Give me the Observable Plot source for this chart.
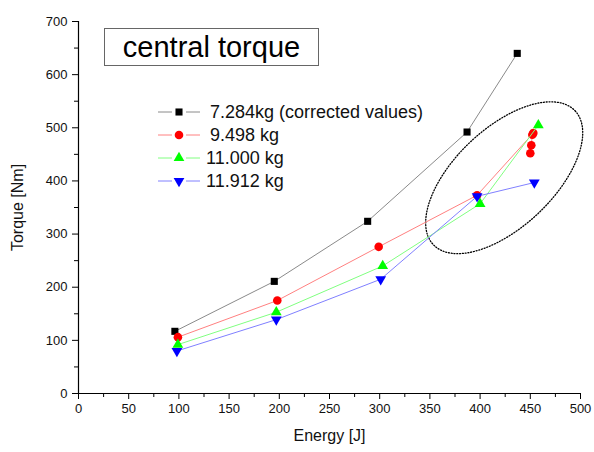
<!DOCTYPE html>
<html>
<head>
<meta charset="utf-8">
<script src="https://cdn.jsdelivr.net/npm/d3@7"></script>
<script src="https://cdn.jsdelivr.net/npm/@observablehq/plot@0.6"></script>
<style>
  html, body { margin: 0; padding: 0; background: #fff; }
  #wrap { position: relative; width: 594px; height: 452px; font-family: "Liberation Sans", Arial, sans-serif; }
  #titlebox { position: absolute; left: 104px; top: 28px; width: 213px; height: 36px; border: 1px solid #666;
    font-size: 29px; line-height: 36px; text-align: center; color: #000; background: #fff; }
  #legend { position: absolute; left: 156px; top: 101px; font-size: 18px; color: #111; }
  .row { position: absolute; left: 0; height: 22px; white-space: nowrap; display: flex; align-items: center; }
  .row svg { display: block; }
  svg g[aria-label$="axis label"] { font-size: 16px; }
</style>
</head>
<body>
<div id="wrap">
  <div id="chart"></div>
  <div id="titlebox">central torque</div>
  <div id="legend"></div>
</div>
<script>
// ---- data ----
const seriesNames = ["7.284kg (corrected values)", "9.498 kg", "11.000 kg", "11.912 kg"];
const lineColors = ["#8a8a8a", "#ff8080", "#80ff80", "#8080ff"];
const markerColors = ["#000000", "#ff0000", "#00ff00", "#0000ff"];

const energy7284 = [96, 195, 288, 387, 437];
const torque7284 = [117, 211, 324, 492, 640];

const energy9498 = [99, 198, 299, 397, 453, 452, 451, 450];
const torque9498 = [106, 175, 276, 373, 490, 487, 467, 452];

const energy11000 = [99, 197, 303, 400, 458];
const torque11000 = [92, 153, 240, 357, 505];

const energy11912 = [98, 197, 301, 397, 454];
const torque11912 = [80, 139, 215, 371, 397];

const xTickValues = [0, 50, 100, 150, 200, 250, 300, 350, 400, 450, 500];
const xMinorTicks = [25, 75, 125, 175, 225, 275, 325, 375, 425, 475];
const yTickValues = [0, 100, 200, 300, 400, 500, 600, 700];
const yMinorTicks = [50, 150, 250, 350, 450, 550, 650];

// dotted annotation ellipse (data units): center, major and minor half-axis vectors
const ellipseCenter = [424, 406];
const ellipseMajor = [70.6, 126.0];
const ellipseMinor = [33.7, -67.4];

// ---- build tables ----
const toRows = (xs, ys) => xs.map((x, i) => ({x, y: ys[i]}));
const s1 = toRows(energy7284, torque7284);
const s2 = toRows(energy9498, torque9498);
const s3 = toRows(energy11000, torque11000);
const s4 = toRows(energy11912, torque11912);

const ellipsePts = d3.range(0, 361, 3).map(deg => {
  const t = deg * Math.PI / 180;
  return {
    x: ellipseCenter[0] + Math.cos(t) * ellipseMajor[0] + Math.sin(t) * ellipseMinor[0],
    y: ellipseCenter[1] + Math.cos(t) * ellipseMajor[1] + Math.sin(t) * ellipseMinor[1]
  };
});

const triangleDown = {
  draw(context, size) {
    const y = Math.sqrt(size / (Math.sqrt(3) * 3));
    context.moveTo(0, y * 2);
    context.lineTo(-Math.sqrt(3) * y, -y);
    context.lineTo(Math.sqrt(3) * y, -y);
    context.closePath();
  }
};

const chart = Plot.plot({
  width: 594,
  height: 452,
  marginLeft: 78,
  marginRight: 14,
  marginTop: 21,
  marginBottom: 59,
  style: {fontFamily: "Liberation Sans, Arial, sans-serif", fontSize: "13px", color: "#111", background: "#fff"},
  x: {domain: [0, 500]},
  y: {domain: [0, 700]},
  marks: [
    Plot.axisX({ticks: xMinorTicks, tickSize: 4, tickFormat: () => "", label: null, stroke: "#000"}),
    Plot.axisX({ticks: xTickValues, tickSize: 6, tickPadding: 4, tickFormat: d => String(d),
      label: "Energy [J]", labelAnchor: "center", labelOffset: 47, labelArrow: false, stroke: "#000"}),
    Plot.axisY({ticks: yMinorTicks, tickSize: 4, tickFormat: () => "", label: null, stroke: "#000"}),
    Plot.axisY({ticks: yTickValues, tickSize: 6, tickPadding: 5, tickFormat: d => String(d),
      label: "Torque [Nm]", labelAnchor: "center", labelOffset: 67, labelArrow: false, stroke: "#000"}),
    Plot.ruleX([0], {stroke: "#000", strokeWidth: 1.2}),
    Plot.ruleY([0], {stroke: "#000", strokeWidth: 1.2}),

    Plot.line(ellipsePts, {x: "x", y: "y", stroke: "#000", strokeWidth: 1.3, strokeDasharray: "1,1.8"}),

    Plot.line(s1, {x: "x", y: "y", stroke: lineColors[0], strokeWidth: 1}),
    Plot.dot(s1, {x: "x", y: "y", symbol: "square", fill: markerColors[0], r: 4}),

    Plot.line(s2, {x: "x", y: "y", stroke: lineColors[1], strokeWidth: 1}),
    Plot.dot(s2, {x: "x", y: "y", symbol: "circle", fill: markerColors[1], r: 4.3}),

    Plot.line(s3, {x: "x", y: "y", stroke: lineColors[2], strokeWidth: 1}),
    Plot.dot(s3, {x: "x", y: "y", symbol: "triangle", fill: markerColors[2], r: 4}),

    Plot.line(s4, {x: "x", y: "y", stroke: lineColors[3], strokeWidth: 1}),
    Plot.dot(s4, {x: "x", y: "y", symbol: triangleDown, fill: markerColors[3], r: 4})
  ]
});
document.getElementById("chart").appendChild(chart);

// ---- legend (HTML overlay) ----
const symbolTypes = [d3.symbolSquare, d3.symbolCircle, d3.symbolTriangle, triangleDown];
const symbolSizes = [50, 58, 50, 50];
const legendTextLeft = [54, 54, 50, 50];
const legend = d3.select("#legend");
seriesNames.forEach((name, i) => {
  const row = legend.append("div").attr("class", "row").style("top", (i * 23) + "px");
  const svg = row.append("svg").attr("width", 46).attr("height", 22);
  svg.append("line").attr("x1", 2).attr("x2", 16).attr("y1", 11).attr("y2", 11)
    .attr("stroke", lineColors[i]).attr("stroke-width", 1);
  svg.append("line").attr("x1", 30).attr("x2", 44).attr("y1", 11).attr("y2", 11)
    .attr("stroke", lineColors[i]).attr("stroke-width", 1);
  svg.append("path").attr("transform", "translate(23,11)")
    .attr("d", d3.symbol(symbolTypes[i], symbolSizes[i])()).attr("fill", markerColors[i]);
  row.append("span").text(name).style("margin-left", (legendTextLeft[i] - 46) + "px");
});
</script>
</body>
</html>
